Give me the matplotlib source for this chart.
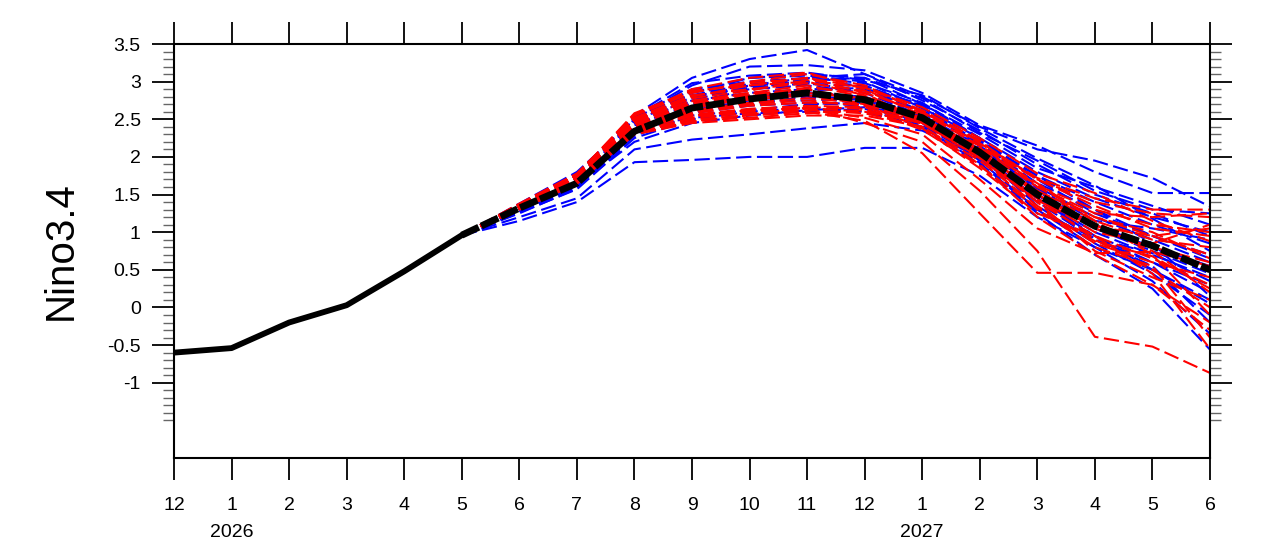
import matplotlib
matplotlib.use("Agg")
import matplotlib.pyplot as plt
import matplotlib.transforms as mtransforms
import numpy as np

plt.rcParams['font.family'] = ['Liberation Sans', 'DejaVu Sans']
plt.rcParams['lines.scale_dashes'] = False

# months from Dec 2025 to Jun 2027
month_labels = ["12", "1", "2", "3", "4", "5", "6", "7", "8", "9", "10",
                "11", "12", "1", "2", "3", "4", "5", "6"]
year_labels = {1: "2026", 13: "2027"}

# observed, Dec 2025 .. May 2026
obs = [-0.60, -0.54, -0.20, 0.03, 0.48, 0.96]

# ensemble mean, May 2026 .. Jun 2027
ens_mean = [0.96, 1.32, 1.65, 2.34, 2.65, 2.77, 2.85, 2.76, 2.52, 2.06,
            1.50, 1.08, 0.82, 0.50]

# members (Jun 2026 .. Jun 2027), all start from the May observation
blue_members = [
    [1.35, 1.75, 2.55, 3.05, 3.30, 3.42, 3.10, 2.80, 2.40, 2.10, 1.95, 1.72, 1.34],
    [1.38, 1.80, 2.50, 2.95, 3.20, 3.22, 3.15, 2.85, 2.42, 2.15, 1.80, 1.52, 1.52],
    [1.15, 1.40, 1.93, 1.96, 2.00, 2.00, 2.12, 2.12, 1.75, 1.20, 0.80, 0.50, 0.10],
    [1.20, 1.45, 2.10, 2.23, 2.30, 2.38, 2.45, 2.35, 2.00, 1.45, 1.00, 0.70, 0.40],
    [1.30, 1.70, 2.45, 2.85, 3.05, 3.10, 3.05, 2.70, 2.30, 1.85, 1.60, 1.35, 1.10],
    [1.32, 1.68, 2.40, 2.80, 2.95, 3.00, 2.95, 2.65, 2.20, 1.75, 1.40, 1.10, 0.85],
    [1.28, 1.62, 2.35, 2.72, 2.90, 2.95, 2.85, 2.55, 2.10, 1.60, 1.20, 0.90, 0.60],
    [1.33, 1.66, 2.50, 2.75, 2.85, 2.90, 2.90, 2.70, 2.25, 1.70, 1.25, 0.95, 0.70],
    [1.25, 1.58, 2.30, 2.60, 2.70, 2.80, 2.70, 2.45, 2.00, 1.40, 0.95, 0.60, 0.30],
    [1.30, 1.65, 2.38, 2.65, 2.78, 2.85, 2.80, 2.55, 2.15, 1.55, 1.05, 0.75, 0.45],
    [1.35, 1.72, 2.48, 2.90, 3.00, 3.05, 3.10, 2.75, 2.35, 1.90, 1.50, 1.25, 0.95],
    [1.27, 1.60, 2.28, 2.55, 2.62, 2.70, 2.72, 2.50, 2.05, 1.35, 0.85, 0.45, -0.10],
    [1.31, 1.64, 2.42, 2.70, 2.82, 2.88, 2.92, 2.60, 2.05, 1.45, 0.95, 0.50, 0.05],
    [1.29, 1.61, 2.33, 2.62, 2.75, 2.75, 2.78, 2.48, 1.95, 1.30, 0.80, 0.35, -0.35],
    [1.34, 1.70, 2.52, 2.88, 3.05, 3.08, 3.00, 2.65, 2.25, 1.80, 1.45, 1.20, 1.00],
    [1.26, 1.57, 2.25, 2.50, 2.60, 2.65, 2.60, 2.40, 1.90, 1.25, 0.70, 0.25, -0.56],
    [1.32, 1.67, 2.44, 2.78, 2.92, 2.98, 2.88, 2.62, 2.18, 1.65, 1.30, 0.95, 0.65],
    [1.30, 1.63, 2.36, 2.68, 2.80, 2.82, 2.75, 2.50, 2.12, 1.55, 1.10, 0.80, 0.55],
    [1.33, 1.69, 2.46, 2.82, 2.97, 3.02, 3.05, 2.78, 2.32, 1.95, 1.55, 1.30, 1.25],
    [1.28, 1.60, 2.32, 2.58, 2.68, 2.72, 2.68, 2.42, 1.98, 1.40, 0.90, 0.60, 0.20],
    [1.29, 1.62, 2.20, 2.45, 2.55, 2.62, 2.66, 2.55, 2.22, 1.75, 1.30, 0.85, 0.15],
    [1.31, 1.66, 2.40, 2.75, 2.95, 3.05, 2.98, 2.72, 2.25, 1.50, 0.90, 0.55, -0.20],
    [1.36, 1.74, 2.53, 2.98, 3.08, 3.12, 3.02, 2.82, 2.38, 1.98, 1.62, 1.18, 0.75],
    [1.30, 1.64, 2.38, 2.52, 2.58, 2.60, 2.64, 2.40, 1.92, 1.28, 0.92, 0.72, 0.35],
    [1.33, 1.68, 2.47, 2.86, 2.94, 2.97, 2.94, 2.68, 2.15, 1.58, 1.15, 1.05, 0.90],
]

red_members = [
    [1.35, 1.72, 2.50, 2.80, 2.95, 3.05, 2.85, 2.45, 2.05, 1.55, 1.20, 0.95, 0.70],
    [1.38, 1.78, 2.55, 2.85, 3.00, 3.10, 2.95, 2.60, 2.20, 1.70, 1.40, 1.25, 1.20],
    [1.32, 1.68, 2.35, 2.50, 2.55, 2.60, 2.48, 2.05, 1.25, 0.46, 0.46, 0.30, -0.30],
    [1.33, 1.70, 2.38, 2.55, 2.62, 2.66, 2.45, 2.20, 1.55, 0.75, -0.39, -0.52, -0.87],
    [1.30, 1.65, 2.30, 2.45, 2.50, 2.55, 2.55, 2.40, 1.90, 1.20, 0.70, 0.30, -0.20],
    [1.33, 1.70, 2.42, 2.65, 2.78, 2.85, 2.78, 2.55, 2.10, 1.50, 1.05, 0.80, 0.60],
    [1.36, 1.75, 2.55, 2.90, 3.05, 3.12, 2.90, 2.55, 2.00, 1.40, 0.95, 0.65, 0.30],
    [1.34, 1.69, 2.40, 2.55, 2.62, 2.65, 2.60, 2.45, 2.00, 1.45, 1.00, 0.85, 1.10],
    [1.31, 1.66, 2.33, 2.48, 2.52, 2.58, 2.62, 2.48, 2.15, 1.70, 1.35, 1.05, 0.95],
    [1.37, 1.76, 2.58, 2.88, 2.95, 3.00, 2.82, 2.50, 2.00, 1.30, 0.80, 0.55, -0.40],
    [1.33, 1.68, 2.38, 2.60, 2.70, 2.75, 2.68, 2.50, 2.10, 1.60, 1.25, 1.20, 1.25],
    [1.35, 1.73, 2.48, 2.75, 2.85, 2.95, 2.80, 2.52, 2.08, 1.50, 1.10, 0.75, 0.20],
    [1.32, 1.67, 2.36, 2.58, 2.68, 2.72, 2.70, 2.46, 2.02, 1.45, 0.90, 0.50, 0.00],
    [1.34, 1.71, 2.45, 2.70, 2.80, 2.90, 2.75, 2.48, 2.05, 1.55, 1.15, 0.90, 0.80],
    [1.36, 1.74, 2.52, 2.82, 2.90, 2.98, 2.88, 2.58, 2.15, 1.62, 1.30, 1.10, 1.00],
    [1.30, 1.64, 2.32, 2.52, 2.58, 2.62, 2.58, 2.40, 1.95, 1.35, 0.85, 0.60, 0.40],
    [1.33, 1.69, 2.40, 2.62, 2.72, 2.78, 2.72, 2.52, 2.12, 1.65, 1.15, 0.70, -0.10],
    [1.35, 1.72, 2.47, 2.72, 2.82, 2.92, 2.85, 2.60, 2.18, 1.72, 1.45, 1.30, 1.30],
    [1.31, 1.65, 2.34, 2.56, 2.64, 2.68, 2.66, 2.44, 2.00, 1.40, 0.75, 0.40, 0.10],
    [1.37, 1.77, 2.56, 2.86, 2.98, 3.05, 2.92, 2.62, 2.22, 1.60, 1.20, 1.00, 0.65],
    [1.32, 1.66, 2.37, 2.54, 2.60, 2.64, 2.52, 2.30, 1.70, 1.05, 0.72, 0.74, 0.55],
    [1.34, 1.70, 2.44, 2.68, 2.76, 2.82, 2.70, 2.38, 1.85, 1.25, 0.95, 0.45, -0.55],
    [1.36, 1.75, 2.50, 2.78, 2.88, 3.02, 2.92, 2.66, 2.25, 1.78, 1.52, 1.15, 0.88],
    [1.31, 1.66, 2.30, 2.47, 2.56, 2.66, 2.64, 2.36, 1.88, 1.32, 0.88, 0.68, 0.25],
    [1.35, 1.73, 2.52, 2.74, 2.84, 2.88, 2.76, 2.45, 1.98, 1.42, 1.08, 0.95, 1.05],
]

x_all = np.arange(len(month_labels))
x_obs = x_all[:len(obs)]
x_fc = x_all[len(obs) - 1:]

fig = plt.figure(figsize=(12.67, 5.5), dpi=100)
ax = fig.add_axes([174 / 1267, 1 - 458 / 550, (1210 - 174) / 1267, (458 - 44) / 550])

for b in blue_members:
    ax.plot(x_fc, [obs[-1]] + b, color="blue", lw=1.5, dashes=(11, 4))
for r in red_members:
    ax.plot(x_fc, [obs[-1]] + r, color="red", lw=1.5, dashes=(11, 4))

ax.plot(x_obs, obs, color="black", lw=4.2, solid_capstyle="round",
        solid_joinstyle="round")
ax.plot(x_fc, ens_mean, color="black", lw=5, dashes=(13.5, 2))

ax.set_xlim(0, 18)
ax.set_ylim(-2, 3.5)

ax.set_xticks(x_all)
ax.set_xticklabels(month_labels, fontsize=14)
ax.set_yticks(np.arange(-1, 3.51, 0.5))
ax.set_yticklabels(["-1", "-0.5", "0", "0.5", "1", "1.5", "2", "2.5", "3", "3.5"],
                   fontsize=14)
minor = [v / 10 for v in range(-15, 35) if v % 5 != 0 or v == -15]
ax.set_yticks(minor, minor=True)

ax.tick_params(axis="both", which="major", direction="out", length=16,
               width=1.3, pad=8, top=True, right=True)
ax.tick_params(axis="y", which="minor", direction="out", length=8,
               width=1.0, color="#666666", right=True, left=True)
ax.tick_params(axis="x", which="major", pad=12)
ax.tick_params(labeltop=False, labelright=False)
for s in ax.spines.values():
    s.set_linewidth(1.5)

trans = mtransforms.blended_transform_factory(ax.transData, ax.transAxes)
for i, yr in year_labels.items():
    ax.text(i, -0.16, yr, transform=trans, ha="center", va="top", fontsize=14)

ax.set_ylabel("Nino3.4", fontsize=29, labelpad=20)

fig.savefig("out.png", dpi=100)
